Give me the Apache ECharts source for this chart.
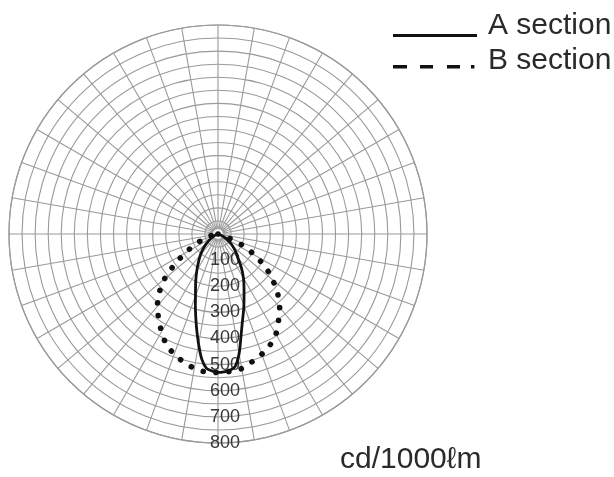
<!DOCTYPE html>
<html>
<head>
<meta charset="utf-8">
<script src="https://cdn.jsdelivr.net/npm/echarts@6/dist/echarts.min.js"></script>
<style>
  html, body { margin: 0; padding: 0; background: #ffffff; }
  #chart { width: 614px; height: 477px; }
</style>
</head>
<body>
<div id="chart"></div>
<script>
// Luminous intensity distribution (cd/1000 lm), polar plot.
// Angles are measured from nadir (0° = straight down); "left" and "right"
// are the two halves of each section.
const angles = [0, 2.5, 5, 7.5, 10, 12.5, 15, 17.5, 20, 25, 30, 35, 40, 45, 50, 55, 60, 65, 70, 75, 80, 85, 90];

// A section (solid curve)
const aLeft  = [530, 525, 515, 481, 428, 376, 329, 288, 252, 202, 162, 130, 104, 81, 59, 41, 25, 15, 8, 4, 2, 1, 0];
const aRight = [530, 528, 524, 510, 465, 405, 357, 321, 290, 236, 195, 155, 117, 95, 75, 57, 39, 23, 13, 6, 3, 1, 0];

// B section (dotted curve)
const bLeft  = [530, 530, 530, 527, 522, 515, 507, 499, 490, 467, 432, 396, 361, 318, 267, 202, 144, 97, 62, 35, 18, 7, 0];
const bRight = [530, 529, 528, 526, 523, 516, 506, 498, 490, 470, 443, 404, 367, 323, 273, 222, 162, 105, 48, 22, 10, 4, 0];

// Radial scale
const radiusMax = 800;
const ringStep = 50;
const labelStep = 100;
const spokeStep = 10;

const seriesNames = ['A section', 'B section'];
const unitText = 'cd/1000ℓm';

// Layout
const center = [218, 234];
const outerRadius = 209;
const gridColor = '#9a9a9a';
const inkColor = '#111111';
const textColor = '#2a2a2a';
const fontFamily = '"Liberation Sans", Arial, sans-serif';

// Build one curve: right half from 90° down to nadir, then the left half back up.
function buildCurve(left, right) {
  const pts = [];
  for (let i = angles.length - 1; i >= 1; i--) {
    pts.push([right[i], 360 - angles[i]]);
  }
  pts.push([left[0], 0]);
  for (let i = 1; i < angles.length; i++) {
    pts.push([left[i], angles[i]]);
  }
  return pts;
}

const chart = echarts.init(document.getElementById('chart'), null, { renderer: 'canvas' });

chart.setOption({
  animation: false,
  backgroundColor: '#ffffff',
  polar: {
    center: center,
    radius: outerRadius
  },
  angleAxis: {
    type: 'value',
    min: 0,
    max: 360,
    interval: spokeStep,
    startAngle: 270,
    clockwise: true,
    axisLine: { show: true, lineStyle: { color: gridColor, width: 1.2 } },
    axisTick: { show: false },
    axisLabel: { show: false },
    splitLine: { show: true, lineStyle: { color: gridColor, width: 1.1 } }
  },
  radiusAxis: {
    type: 'value',
    min: 0,
    max: radiusMax,
    interval: ringStep,
    axisLine: { show: false },
    axisTick: { show: false },
    splitLine: { show: true, lineStyle: { color: gridColor, width: 1.1 } },
    axisLabel: {
      show: true,
      margin: -8,
      align: 'left',
      verticalAlign: 'middle',
      padding: [6, 0, 0, 0],
      fontFamily: fontFamily,
      fontSize: 18,
      color: '#383838',
      formatter: function (v) {
        return (v > 0 && v % labelStep === 0) ? String(v) : '';
      }
    },
    z: 3
  },
  legend: {
    orient: 'vertical',
    left: 388,
    top: 6,
    itemWidth: 84,
    itemHeight: 22,
    itemGap: 5,
    selectedMode: false,
    itemStyle: { borderWidth: 0 },
    textStyle: {
      fontFamily: fontFamily,
      fontSize: 30,
      color: textColor,
      padding: [0, 0, 0, 6]
    },
    data: [
      { name: seriesNames[0], icon: 'path://M0,0M0,19h84v3h-84z' },
      { name: seriesNames[1], icon: 'path://M0,0M0,15h14v3.4h-14zM27,15h13v3.4h-13zM54,15h13v3.4h-13zM78,15h3.4v3.4h-3.4zM84,22' }
    ]
  },
  graphic: [
    {
      type: 'circle',
      shape: { cx: center[0], cy: center[1], r: 5 },
      style: { fill: '#ffffff', stroke: '#c8c8c8', lineWidth: 0.8 },
      z: 1,
      silent: true
    },
    {
      type: 'text',
      x: 340,
      y: 460,
      style: {
        text: unitText,
        fontFamily: fontFamily,
        fontSize: 30,
        fill: textColor,
        align: 'left',
        verticalAlign: 'middle'
      },
      silent: true
    }
  ],
  series: [
    {
      name: seriesNames[0],
      type: 'line',
      coordinateSystem: 'polar',
      data: buildCurve(aLeft, aRight),
      symbol: 'none',
      smooth: 0.3,
      color: inkColor,
      lineStyle: { color: inkColor, width: 2.8 },
      z: 4
    },
    {
      name: seriesNames[1],
      type: 'line',
      coordinateSystem: 'polar',
      data: buildCurve(bLeft, bRight),
      symbol: 'none',
      smooth: 0.3,
      color: inkColor,
      lineStyle: { color: inkColor, width: 5.6, type: [0.1, 12.7], cap: 'round' },
      z: 3
    }
  ]
});
</script>
</body>
</html>
